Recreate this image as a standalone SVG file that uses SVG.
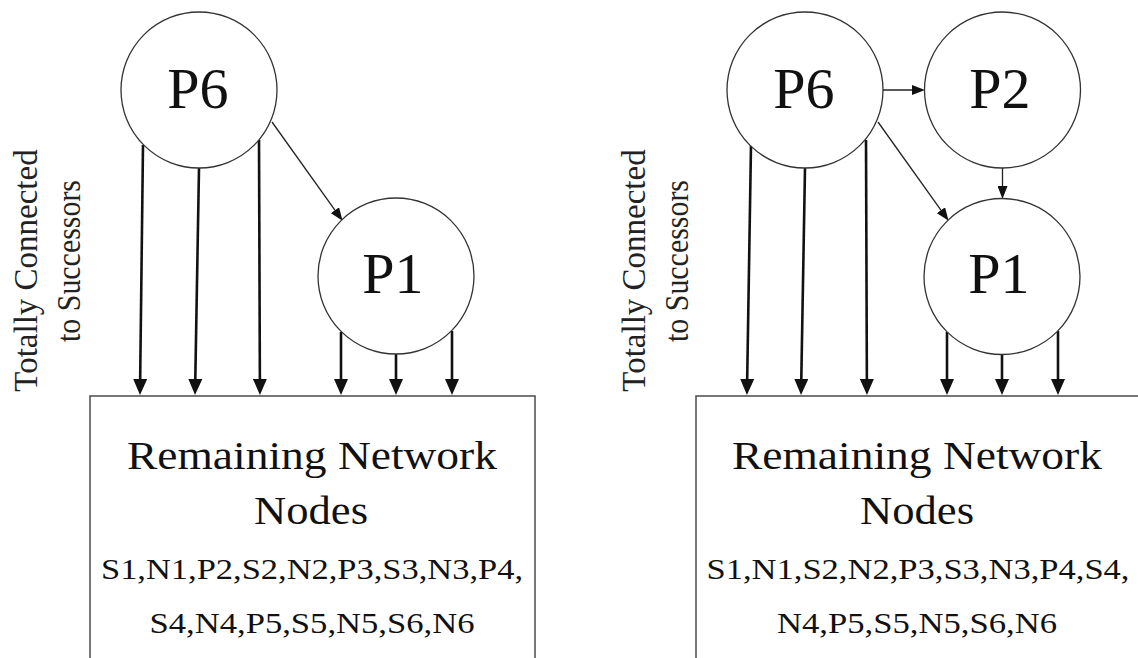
<svg xmlns="http://www.w3.org/2000/svg" width="1138" height="658" viewBox="0 0 1138 658">
<style>
.node{fill:#fff;stroke:#333;stroke-width:1.3}
.box{fill:#fff;stroke:#555;stroke-width:1.6}
.lbl{fill:#111;text-anchor:middle}
.side{fill:#222;text-anchor:middle}
.thick{stroke:#111;stroke-width:2.6;fill:none;marker-end:url(#ah)}
.thin{stroke:#222;stroke-width:1.3;fill:none;marker-end:url(#at)}
</style>
<defs>
<marker id="ah" markerUnits="userSpaceOnUse" viewBox="0 0 16 14" markerWidth="16" markerHeight="14" refX="6" refY="7" orient="auto"><path d="M0,0 L16,7 L0,14 z" fill="#111"/></marker>
<marker id="at" markerUnits="userSpaceOnUse" viewBox="0 0 13 10" markerWidth="13" markerHeight="10" refX="6" refY="5" orient="auto"><path d="M0,0 L13,5 L0,10 z" fill="#111"/></marker>
</defs>

<g id="left-box" font-family="Liberation Serif, serif">
<rect class="box" x="90" y="396" width="445" height="300"/>
<text class="lbl" font-size="41" x="312" y="469" textLength="370" lengthAdjust="spacingAndGlyphs">Remaining Network</text>
<text class="lbl" font-size="41" x="311" y="524" textLength="114" lengthAdjust="spacingAndGlyphs">Nodes</text>
<text class="lbl" font-size="30" x="312" y="579" textLength="422" lengthAdjust="spacingAndGlyphs">S1,N1,P2,S2,N2,P3,S3,N3,P4,</text>
<text class="lbl" font-size="30" x="312" y="633" textLength="325" lengthAdjust="spacingAndGlyphs">S4,N4,P5,S5,N5,S6,N6</text>
</g>
<g id="right-box" font-family="Liberation Serif, serif">
<rect class="box" x="696" y="396" width="500" height="300"/>
<text class="lbl" font-size="41" x="917" y="469" textLength="370" lengthAdjust="spacingAndGlyphs">Remaining Network</text>
<text class="lbl" font-size="41" x="917" y="524" textLength="114" lengthAdjust="spacingAndGlyphs">Nodes</text>
<text class="lbl" font-size="30" x="918" y="579" textLength="423" lengthAdjust="spacingAndGlyphs">S1,N1,S2,N2,P3,S3,N3,P4,S4,</text>
<text class="lbl" font-size="30" x="917" y="633" textLength="280" lengthAdjust="spacingAndGlyphs">N4,P5,S5,N5,S6,N6</text>
</g>

<g id="connectors">
<path class="thick" d="M143,145 L140.1,385"/>
<path class="thick" d="M199,168 L195.2,385"/>
<path class="thick" d="M259,140 L259.9,385"/>
<path class="thick" d="M341,332 L341,385"/>
<path class="thick" d="M396,354 L396,385"/>
<path class="thick" d="M452,331 L452,385"/>
<path class="thin" d="M272,122 L338.5,215.1"/>

<path class="thick" d="M751,145 L747.1,385"/>
<path class="thick" d="M805,168 L801.2,385"/>
<path class="thick" d="M866,140 L866.9,385"/>
<path class="thick" d="M947,332 L947,385"/>
<path class="thick" d="M1002,354 L1002,385"/>
<path class="thick" d="M1058,331 L1058,385"/>
<path class="thin" d="M878,122 L944.5,215.1"/>
<path class="thin" d="M883,90 L918,90"/>
<path class="thin" d="M1002.5,168 L1002.5,192"/>
</g>

<g id="left-P6" font-family="Liberation Serif, serif"><circle class="node" cx="199" cy="90" r="78"/><text class="lbl" font-size="58" x="198" y="108">P6</text></g>
<g id="left-P1" font-family="Liberation Serif, serif"><circle class="node" cx="396" cy="276" r="78"/><text class="lbl" font-size="58" x="393" y="293">P1</text></g>
<g id="right-P6" font-family="Liberation Serif, serif"><circle class="node" cx="805" cy="90" r="78"/><text class="lbl" font-size="58" x="804" y="108">P6</text></g>
<g id="right-P2" font-family="Liberation Serif, serif"><circle class="node" cx="1002.5" cy="90" r="78"/><text class="lbl" font-size="58" x="1000" y="108">P2</text></g>
<g id="right-P1" font-family="Liberation Serif, serif"><circle class="node" cx="1002" cy="276.5" r="78"/><text class="lbl" font-size="58" x="999" y="293">P1</text></g>

<g id="left-side-label" font-family="Liberation Serif, serif" font-size="33">
<text class="side" transform="translate(37,270.5) rotate(-90)">Totally Connected</text>
<text class="side" transform="translate(80,261) rotate(-90)" textLength="162" lengthAdjust="spacingAndGlyphs">to Successors</text>
</g>
<g id="right-side-label" font-family="Liberation Serif, serif" font-size="33">
<text class="side" transform="translate(645,270.5) rotate(-90)">Totally Connected</text>
<text class="side" transform="translate(688,261) rotate(-90)" textLength="162" lengthAdjust="spacingAndGlyphs">to Successors</text>
</g>
</svg>
